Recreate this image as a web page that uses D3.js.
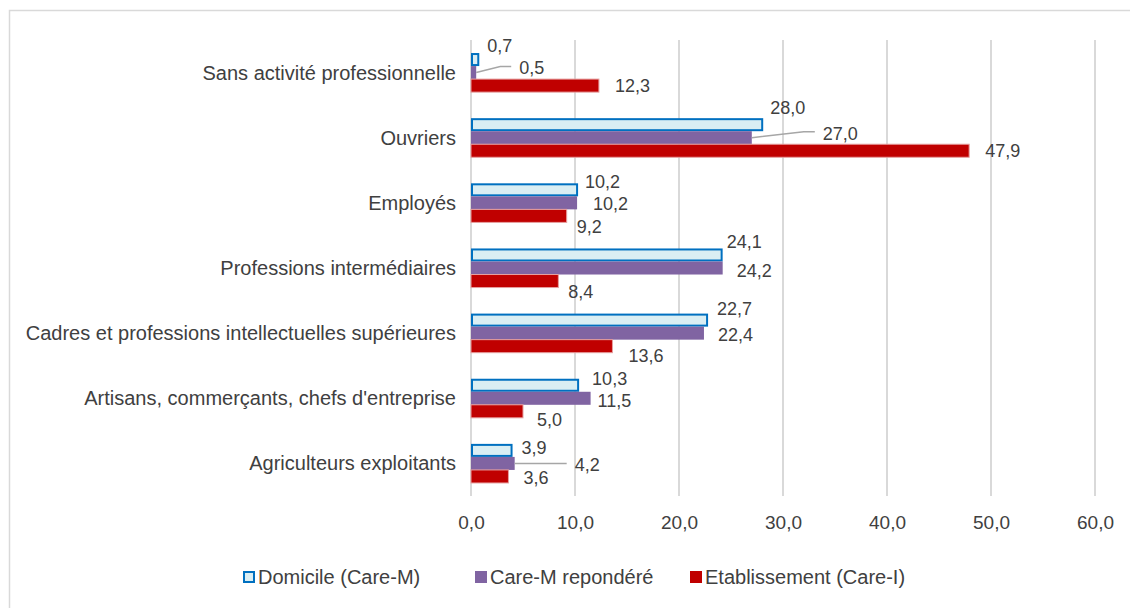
<!DOCTYPE html>
<html><head><meta charset="utf-8">
<script src="https://cdn.jsdelivr.net/npm/d3@7"></script>
<style>
html,body{margin:0;padding:0;background:#fff;}
svg{display:block;}
text{font-family:"Liberation Sans",Arial,sans-serif;fill:#404040;}
</style></head>
<body>
<svg id="chart" width="1130" height="608"></svg>
<script>
const categories = ["Sans activité professionnelle","Ouvriers","Employés","Professions intermédiaires","Cadres et professions intellectuelles supérieures","Artisans, commerçants, chefs d'entreprise","Agriculteurs exploitants"];
const seriesNames = ["Domicile (Care-M)","Care-M repondéré","Etablissement (Care-I)"];
const domicile = [0.7,28.0,10.2,24.1,22.7,10.3,3.9];
const careMRepondere = [0.5,27.0,10.2,24.2,22.4,11.5,4.2];
const etablissement = [12.3,47.9,9.2,8.4,13.6,5.0,3.6];
const xTicks = [0,10,20,30,40,50,60];

// label layout offsets (dx from bar end, dy from bar centre), per series then category
const labelOffsets = [
  [[9,-13.5],[8,-16.5],[8,-8],[5,-13.5],[10,-11.5],[14,-6.5],[10,-2.5]],
  [[43,-4.5],[71,-4.5],[16,1],[14,2.5],[14,1.5],[7,2.5],[60,1.5]],
  [[16,0],[16,0],[10,11],[10,10.5],[16,9.5],[14,8.5],[15,1.5]]
];
const leaderLines = [[1,0],[1,1],[1,6]]; // [series, category]

const fmt = v => d3.format(".1f")(v).replace(".", ",");
const values = [domicile, careMRepondere, etablissement];
const svg = d3.select("#chart");

// outer border
svg.append("rect").attr("x",9.5).attr("y",10.5).attr("width",1130).attr("height",610)
  .attr("fill","none").attr("stroke","#d9d9d9").attr("stroke-width",1.5);

const x = d3.scaleLinear().domain([0,60]).range([471,1095]);
const y = d3.scaleBand().domain(categories).range([40,496]).paddingInner(0.4).paddingOuter(0.2);
const ys = d3.scaleBand().domain(d3.range(3)).range([0,y.bandwidth()]);

// gridlines
svg.append("g").selectAll("line").data(xTicks).join("line")
  .attr("x1",d=>x(d)).attr("x2",d=>x(d)).attr("y1",40).attr("y2",496)
  .attr("stroke","#d9d9d9").attr("stroke-width",2);

// x axis labels
const xAxis = d3.axisBottom(x).tickValues(xTicks).tickFormat(fmt).tickSize(0).tickPadding(0);
const gx = svg.append("g").attr("transform","translate(0,515)").call(xAxis);
gx.select(".domain").remove();
gx.selectAll("text").attr("font-size",19).attr("dy","0.71em")
  .style("font-family","'Liberation Sans',Arial,sans-serif").attr("fill","#404040");

// category labels
const yAxis = d3.axisLeft(y).tickSize(0).tickPadding(0);
const gy = svg.append("g").attr("transform","translate(456,0)").call(yAxis);
gy.select(".domain").remove();
gy.selectAll("text").attr("font-size",20).attr("dy","0.35em")
  .style("font-family","'Liberation Sans',Arial,sans-serif").attr("fill","#404040");

const styles = [
  {fill:"#DAEEF3", stroke:"#0070C0", sw:2},
  {fill:"#8064A2", stroke:"#8064A2", sw:0},
  {fill:"#C00000", stroke:"#E6A0A0", sw:1}
];

values.forEach((vals,s)=>{
  const st = styles[s];
  const g = svg.append("g");
  g.selectAll("rect").data(vals).join("rect")
    .attr("x", x(0) + (s===0?1:0))
    .attr("y",(d,i)=>y(categories[i]) + ys(s) + (s===0?1:0))
    .attr("width",d=> x(d)-x(0) - (s===0?1:0))
    .attr("height", ys.bandwidth() - (s===0?2:0))
    .attr("fill",st.fill)
    .attr("stroke", st.sw ? st.stroke : "none")
    .attr("stroke-width", st.sw);
});

// leader lines
leaderLines.forEach(([s,i])=>{
  const v = values[s][i];
  const bx = x(v), by = y(categories[i]) + ys(s) + ys.bandwidth()/2;
  const [dx,dy] = labelOffsets[s][i];
  const lx = bx+dx, ly = by+dy-1.5;
  svg.append("polyline")
    .attr("points",[[bx,by],[lx-19,ly],[lx-8,ly]].map(p=>p.join(",")).join(" "))
    .attr("fill","none").attr("stroke","#a6a6a6").attr("stroke-width",1.5);
});

// data labels
values.forEach((vals,s)=>{
  svg.append("g").selectAll("text").data(vals).join("text")
    .attr("x",(d,i)=> x(d) + labelOffsets[s][i][0])
    .attr("y",(d,i)=> y(categories[i]) + ys(s) + ys.bandwidth()/2 + labelOffsets[s][i][1])
    .attr("dy","0.35em").attr("font-size",18)
    .text(fmt);
});

// legend
const legendItems = [{x:243, tx:258},{x:475, tx:490},{x:690, tx:705}];
const lg = svg.append("g");
legendItems.forEach((it,s)=>{
  const st = styles[s];
  lg.append("rect").attr("x",it.x + (s===0?1:0)).attr("y",571 + (s===0?1:0))
    .attr("width",12-(s===0?2:0)).attr("height",12-(s===0?2:0))
    .attr("fill",st.fill).attr("stroke", s===0? st.stroke : "none").attr("stroke-width",2);
  lg.append("text").attr("x",it.tx).attr("y",577).attr("dy","0.35em")
    .attr("font-size",20).text(seriesNames[s]);
});
</script>
</body></html>
